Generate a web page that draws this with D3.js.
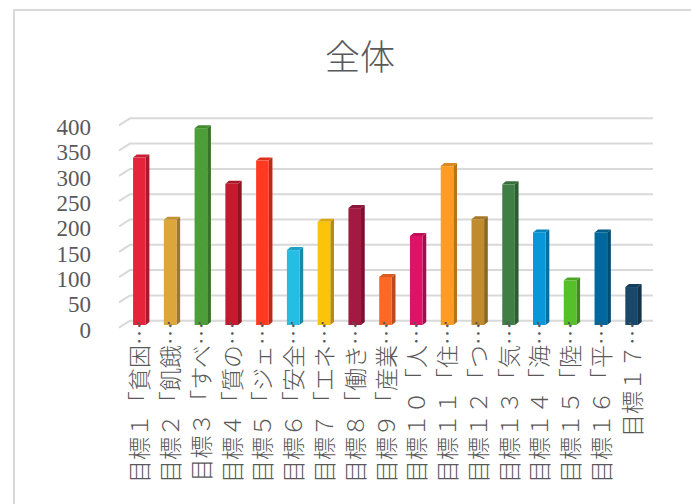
<!DOCTYPE html>
<html>
<head>
<meta charset="utf-8">
<script src="https://cdn.jsdelivr.net/npm/d3@7"></script>
<style>
    body { margin: 0; background: #fff; }
</style>
</head>
<body>
<svg id="chart" width="691" height="504"></svg>
<script>
"use strict";

//// data
const categories = ["目標１「貧困…", "目標２「飢餓…", "目標３「すべ…", "目標４「質の…", "目標５「ジェ…",
    "目標６「安全…", "目標７「エネ…", "目標８「働き…", "目標９「産業…", "目標１０「人…", "目標１１「住…",
    "目標１２「つ…", "目標１３「気…", "目標１４「海…", "目標１５「陸…", "目標１６「平…", "目標１７…"];
const values = [331, 208, 389, 279, 325, 148, 204, 231, 95, 176, 314, 209, 278, 183, 88, 183, 75];
const colors = ["#E5243B", "#DDA63A", "#4C9F38", "#C5192D", "#FF3A21", "#26BDE2", "#FCC30B", "#A21942",
    "#FD6925", "#DD1367", "#FD9D24", "#BF8B2E", "#3F7E44", "#0A97D9", "#56C02B", "#00689D", "#19486A"];
const yTicks = [0, 50, 100, 150, 200, 250, 300, 350, 400];
const title = "全体";

(function () {
    const svg = d3.select("#chart");
    const textColor = "#595959";

    //// chart border (only top and left visible)
    svg.append("path")
        .attr("d", "M14,504 L14,10 L691,10")
        .attr("fill", "none")
        .attr("stroke", "#d9d9d9")
        .attr("stroke-width", 2);

    //// title
    svg.append("text")
        .attr("x", 360).attr("y", 54)
        .attr("text-anchor", "middle")
        .attr("dominant-baseline", "central")
        .attr("font-family", "'Noto Sans CJK JP', sans-serif")
        .attr("font-weight", 300)
        .attr("font-size", "35px")
        .attr("fill", textColor)
        .text(title);

    //// scales (back wall plane)
    const x = d3.scaleBand()
        .domain(categories)
        .range([130, 653])
        .paddingInner(0.59)
        .paddingOuter(0.295);

    const y = d3.scaleLinear()
        .domain([0, 400])
        .range([320.7, 118.3]);

    // depth offsets of the 3d projection
    const wall = { dx: -11, dy: 7 };     // front edge of floor/gridlines
    const front = { dx: -6, dy: 4.3 };   // front face of the bars
    const depth = { dx: 3.7, dy: -3 };   // thickness of each bar

    //// gridlines
    const grid = svg.append("g").attr("class", "grid");
    grid.selectAll("path")
        .data(yTicks)
        .enter().append("path")
            .attr("d", function(d) {
                return "M" + (x.range()[0] + wall.dx) + "," + (y(d) + wall.dy)
                    + " L" + x.range()[0] + "," + y(d)
                    + " L" + x.range()[1] + "," + y(d);
            })
            .attr("fill", "none")
            .attr("stroke", "#d9d9d9")
            .attr("stroke-width", 2);

    //// y axis labels
    svg.append("g")
        .attr("transform", "translate(91,9)")
        .call(d3.axisLeft(y).tickValues(yTicks).tickSize(0).tickPadding(0))
        .call(function(g) { g.select(".domain").remove(); })
        .call(function(g) {
            g.selectAll("text")
                .attr("font-family", "'Liberation Serif', serif")
                .attr("font-size", "23px")
                .attr("fill", textColor);
        });

    //// bars
    const bars = svg.append("g").attr("class", "bars")
        .selectAll("g")
        .data(categories)
        .enter().append("g");

    function geom(i) {
        const x0 = x(categories[i]) + front.dx;
        const x1 = x0 + x.bandwidth();
        const top = y(values[i]) + front.dy;
        const bottom = y(0) + front.dy;
        return { x0: x0, x1: x1, top: top, bottom: bottom };
    }

    // side face
    bars.append("path")
        .attr("d", function(d, i) {
            const g = geom(i);
            return "M" + g.x1 + "," + g.top + " L" + (g.x1 + depth.dx) + "," + (g.top + depth.dy)
                + " L" + (g.x1 + depth.dx) + "," + (g.bottom + depth.dy) + " L" + g.x1 + "," + g.bottom + "Z";
        })
        .attr("fill", function(d, i) { return d3.color(colors[i]).darker(0.9); });

    // top face
    bars.append("path")
        .attr("d", function(d, i) {
            const g = geom(i);
            return "M" + g.x0 + "," + g.top + " L" + (g.x0 + depth.dx) + "," + (g.top + depth.dy)
                + " L" + (g.x1 + depth.dx) + "," + (g.top + depth.dy) + " L" + g.x1 + "," + g.top + "Z";
        })
        .attr("fill", function(d, i) { return d3.color(colors[i]).darker(0.4); });

    // front face
    bars.append("rect")
        .attr("x", function(d, i) { return geom(i).x0; })
        .attr("y", function(d, i) { return geom(i).top; })
        .attr("width", x.bandwidth())
        .attr("height", function(d, i) { return geom(i).bottom - geom(i).top; })
        .attr("fill", function(d, i) { return colors[i]; });

    // small dark mark at the base of each bar
    bars.append("rect")
        .attr("x", function(d, i) { return geom(i).x0 + 4; })
        .attr("y", function(d, i) { return geom(i).bottom - 3; })
        .attr("width", 2).attr("height", 2)
        .attr("fill", "#555");

    //// category labels (rotated, reading bottom to top)
    svg.append("g").attr("class", "labels")
        .selectAll("text")
        .data(categories)
        .enter().append("text")
            .attr("transform", function(d) {
                const cx = x(d) + front.dx + x.bandwidth() / 2 - 1;
                return "translate(" + cx + ",322) rotate(-90)";
            })
            .attr("text-anchor", "end")
            .attr("dominant-baseline", "central")
            .attr("font-family", "'Noto Sans CJK JP', sans-serif")
            .attr("font-weight", 300)
            .attr("font-size", "23px")
            .attr("fill", textColor)
            .text(function(d) { return d; });
})();
</script>
</body>
</html>
